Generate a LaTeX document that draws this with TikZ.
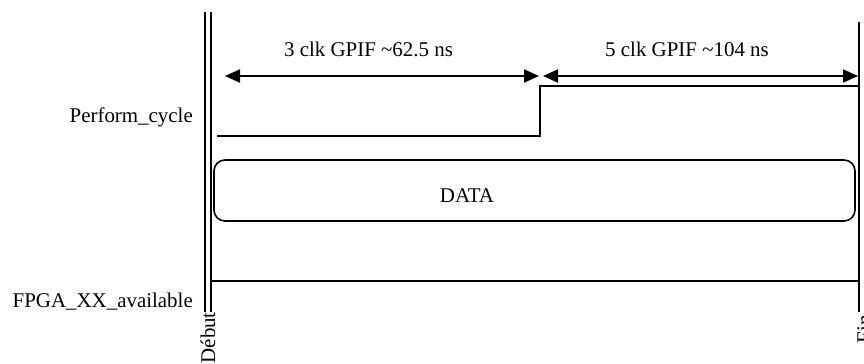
\documentclass[tikz,border=0pt]{standalone}
\usepackage{fontspec}
\setmainfont{Liberation Serif}
\usetikzlibrary{arrows.meta}
\begin{document}
\begin{tikzpicture}[x=1bp,y=-1bp,
  lbl/.style={font=\fontsize{21}{25}\selectfont, inner sep=0pt},
  sig/.style={line width=1.6bp},
  bar/.style={line width=2bp},
  dimarrow/.style={line width=2bp, {Triangle[length=15bp,width=13bp]}-{Triangle[length=15bp,width=13bp]}},
  databox/.style={draw, line width=1.6bp, rounded corners=11bp}]
\useasboundingbox (0,0) rectangle (864,363);
% time markers
\coordinate (d1top) at (205,12);  \coordinate (d1bot) at (205,312);
\coordinate (d2top) at (211,12);  \coordinate (d2bot) at (211,312);
\coordinate (ftop) at (859,22);   \coordinate (fbot) at (859,312);
\draw[bar] (d1top) -- (d1bot);
\draw[bar] (d2top) -- (d2bot);
\draw[bar] (ftop) -- (fbot);
\node[lbl, rotate=90, anchor=base east] (debut) at (215,312) {Début};
\node[lbl, rotate=90, anchor=base east] (fin) at (871,315) {Fin};
% dimension arrows
\coordinate (a1l) at (225,76); \coordinate (a1r) at (539,76);
\coordinate (a2l) at (543,76); \coordinate (a2r) at (858,76);
\draw[dimarrow] (a1l) -- (a1r);
\draw[dimarrow] (a2l) -- (a2r);
\node[lbl, anchor=base] (t1) at (368.5,56) {3 clk GPIF \textasciitilde62.5 ns};
\node[lbl, anchor=base] (t2) at (687,56) {5 clk GPIF \textasciitilde104 ns};
% Perform_cycle
\node[lbl, anchor=base east] (pc) at (193,122) {Perform\_cycle};
\coordinate (p0) at (217,136); \coordinate (p1) at (540,136);
\coordinate (p2) at (540,86);  \coordinate (p3) at (859,86);
\draw[sig] (p0) -- (p1) -- (p2) -- (p3);
% DATA
\draw[databox] (214,160) rectangle (855,221);
\node[lbl, anchor=base] (data) at (467,202) {DATA};
% FPGA_XX_available
\node[lbl, anchor=base east] (fpga) at (193,307) {FPGA\_XX\_available};
\coordinate (f0) at (212,281); \coordinate (f1) at (859,281);
\draw[sig] (f0) -- (f1);
\end{tikzpicture}
\end{document}
